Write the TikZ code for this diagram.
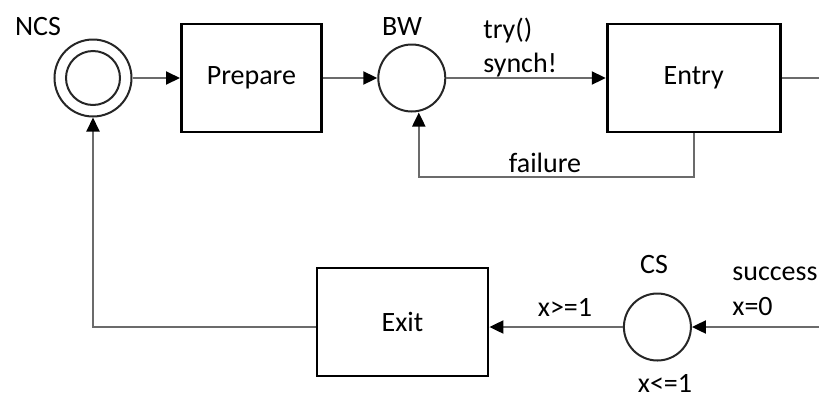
\documentclass[tikz,border=0pt]{standalone}
\usepackage{fontspec}
\setmainfont{Carlito}
\usetikzlibrary{arrows.meta, positioning}

\begin{document}
\begin{tikzpicture}[
    x=0.5pt, y=-0.5pt,
    font=\fontsize{14}{17}\selectfont,
    box/.style={draw, line width=1.4pt, align=center, minimum height=54pt},
    state/.style={draw=black!85, circle, line width=1pt, minimum size=33.5pt, inner sep=0pt},
    lbl/.style={inner sep=0pt, anchor=base},
    link/.style={draw=black!58, line width=1pt},
    arrow/.style={link, -{Triangle[color=black, length=7pt, width=6.5pt]}}
]
  \useasboundingbox (0,0) rectangle (819,397);

  % top row
  \node[state, minimum size=38.5pt] (ncs) at (93,78) {};
  \node[state, minimum size=27pt] (ncsin) at (ncs) {};
  \node[box, minimum width=70pt, right=23.75pt of ncs] (prepare) {Prepare};
  \node[state, right=27.25pt of prepare] (bw) {};
  \node[box, minimum width=86.5pt, right=79.75pt of bw] (entry) {Entry};
  \coordinate (toptail) at (819,78);

  % bottom row
  \node[box, minimum width=85.5pt] (exit) at (402.5,322) {Exit};
  \node[state, right=66.75pt of exit, yshift=-2.5pt] (cs) {};
  \coordinate (bottail) at (819,327);

  % labels
  \node[lbl] (ncslbl) at (38,35) {NCS};
  \node[lbl] (bwlbl) at (402,35) {BW};
  \node[lbl, anchor=base west] (trylbl) at (483,38) {try()};
  \node[lbl, anchor=base west] (synchlbl) at (483,72) {synch!};
  \node[lbl] (faillbl) at (545,172) {failure};
  \node[lbl] (cslbl) at (654,273) {CS};
  \node[lbl] (geqlbl) at (565,316) {x>=1};
  \node[lbl, anchor=base west] (succlbl) at (732,280) {success};
  \node[lbl, anchor=base west] (zerolbl) at (732,315) {x=0};
  \node[lbl] (leqlbl) at (665,392) {x<=1};

  \draw[arrow] (ncs) -- (prepare);
  \draw[arrow] (prepare) -- (bw);
  \draw[arrow] (bw) -- (entry);
  \draw[link] (entry) -- (toptail);
  \draw[arrow] (entry.south) -- ++(0,44) -| ([xshift=3.5pt]bw.south);
  \draw[arrow] (bottail) -- (cs);
  \draw[arrow] (cs) -- (cs -| exit.east);
  \draw[arrow] (exit.west |- cs) -| (ncs.south);
\end{tikzpicture}
\end{document}
